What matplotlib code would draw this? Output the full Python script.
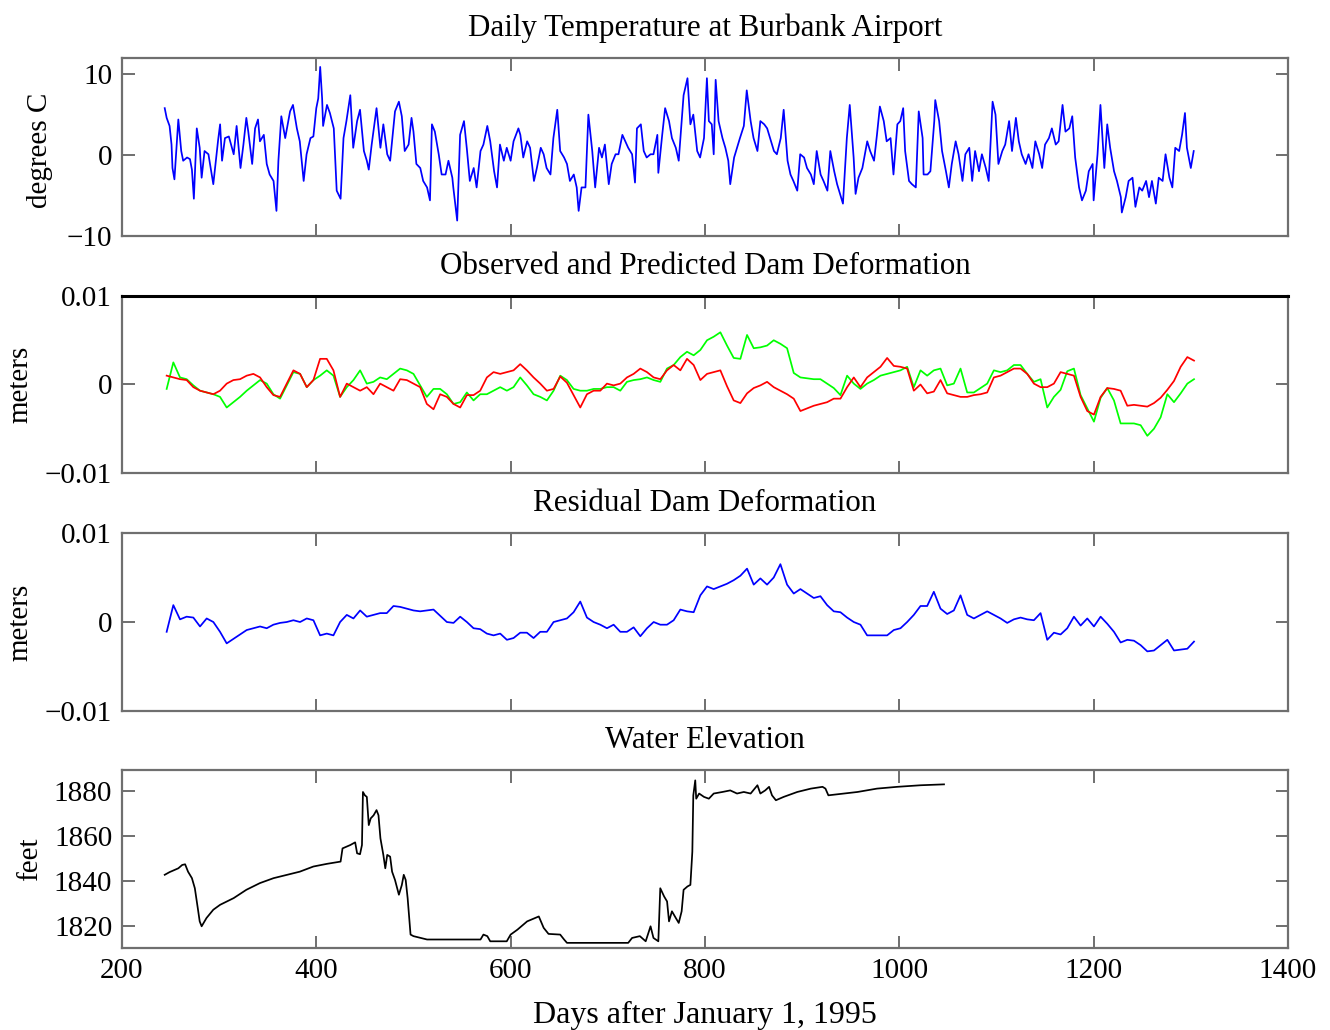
import numpy as np
import matplotlib
matplotlib.use("Agg")
import matplotlib.pyplot as plt

plt.rcParams["font.family"] = ["Liberation Serif", "DejaVu Serif"]

# ---------------- daily temperature (degrees C) ----------------
temp_days = [
    244, 246, 249, 251, 252, 254, 258, 261, 263, 267,
    270, 272, 274, 277, 280, 282, 285, 289, 294, 299,
    301, 303, 306, 310, 315, 318, 322, 325, 328, 330,
    334, 337, 340, 342, 346, 349, 352, 356, 359, 361,
    364, 368, 373, 376, 380, 383, 387, 390, 394, 397,
    400, 402, 404, 406, 407, 411, 414, 418, 421, 425,
    428, 431, 435, 438, 442, 445, 449, 452, 454, 457,
    462, 466, 469, 473, 476, 481, 485, 488, 491, 495,
    498, 500, 503, 507, 510, 514, 517, 519, 522, 526,
    529, 533, 536, 540, 541, 545, 548, 552, 555, 558,
    562, 565, 569, 572, 576, 579, 583, 586, 589, 593,
    596, 600, 603, 608,
    610, 613, 617, 620, 624, 627, 631, 634, 637, 641,
    644, 648, 651, 655, 658, 661, 665, 668, 670, 673,
    677, 680, 684, 687, 691, 694, 697, 701, 704, 708,
    711, 715, 718, 721, 725, 728, 730, 734, 737, 740,
    744, 747, 751, 752, 756, 759, 763, 766, 770, 773,
    776, 778, 782, 785, 788, 792, 795, 799, 802, 804,
    807, 809, 811, 814, 818, 821, 824, 826, 830, 833,
    836, 840, 843, 847, 850, 854, 857, 861, 864, 867,
    871, 874, 878, 881, 885, 888, 891, 895, 898, 902,
    905, 909, 912, 915, 919, 922, 926, 929, 933, 936,
    939, 942, 946, 949, 953, 955, 958, 962, 967, 970,
    974, 977, 980,
    984, 987, 991, 994, 998, 1001, 1004, 1006, 1010, 1013,
    1017, 1020, 1024, 1025, 1029, 1032, 1036, 1037, 1041, 1044,
    1048, 1051, 1054, 1058, 1061, 1065, 1068, 1072, 1075, 1078,
    1082, 1085, 1089, 1092, 1096, 1099, 1102, 1106, 1109, 1113,
    1116, 1120, 1123, 1126, 1130, 1133, 1137, 1140, 1144, 1147,
    1150, 1154, 1157, 1161, 1164, 1168, 1171, 1175, 1178, 1181,
    1185, 1188, 1192, 1195, 1199, 1200, 1204, 1207, 1211, 1214,
    1217, 1221, 1224, 1228, 1229, 1233, 1236, 1240, 1243, 1247,
    1250, 1254, 1257, 1260, 1264, 1267, 1271, 1274, 1278, 1281,
    1284, 1288, 1291, 1294, 1296, 1300, 1303,
]
temp_values = [
    5.8, 4.6, 3.6, 1.3, -1.6, -3.0, 4.4, 0.5, -0.7, -0.3,
    -0.5, -1.8, -5.4, 3.3, 0.9, -2.8, 0.5, 0.1, -3.6, 1.9,
    3.8, -0.7, 2.1, 2.3, 0.1, 3.6, -1.6, 1.3, 4.6, 2.9,
    -1.1, 3.3, 4.4, 1.7, 2.5, -1.1, -2.4, -3.2, -6.9, -0.7,
    4.8, 2.1, 5.4, 6.2, 3.3, 1.7, -3.2, 0.1, 2.1, 2.3,
    5.8, 7.0, 10.9, 7.0, 3.6, 6.2, 5.2, 3.3, -4.4, -5.4,
    2.1, 4.2, 7.4, 0.9, 4.2, 5.6, 0.5, -0.7, -1.8, 1.3,
    5.8, 0.9, 3.8, 0.1, -0.7, 5.4, 6.6, 4.8, 0.5, 1.3,
    4.6, 2.9, -1.1, -1.6, -3.2, -4.0, -5.6, 3.8, 2.9, 0.1,
    -2.4, -2.4, -0.7, -2.8, -4.0, -8.1, 2.5, 4.2, 0.7, -3.2,
    -1.6, -4.0, 0.5, 1.3, 3.6, 1.7, -2.0, -4.0, 1.3, -0.7,
    0.9, -0.7, 1.7, 3.3,
    2.5, -0.3, 1.7, 0.9, -3.2, -1.6, 0.9, 0.1, -1.6, -2.4,
    2.1, 5.6, 0.5, -0.3, -1.1, -3.2, -2.4, -4.0, -6.9, -4.0,
    -4.0, 5.0, 0.5, -4.0, 0.9, -0.3, 1.3, -3.6, -1.1, 0.1,
    0.1, 2.5, 1.7, 0.9, 0.1, -3.4, 3.3, 3.8, 0.5, -0.3,
    0.1, 0.1, 2.5, -2.2, 2.5, 5.8, 4.2, 2.1, 0.9, -0.7,
    4.2, 7.4, 9.5, 3.8, 5.0, 0.5, -0.3, 2.1, 9.5, 4.2,
    3.8, 0.1, 9.3, 4.2, 2.1, 0.9, -0.7, -3.6, -0.3, 0.9,
    2.1, 3.6, 8.0, 4.2, 2.1, 0.5, 4.2, 3.8, 3.3, 2.1,
    0.5, 0.1, 2.1, 5.6, -0.7, -2.4, -3.2, -4.4, 0.1, -0.3,
    -1.6, -2.4, -3.6, 0.5, -2.4, -3.2, -4.4, 0.5, -2.0, -3.6,
    -4.8, -6.0, 2.1, 6.2, -0.3, -4.8, -2.8, -1.6, 1.7, 0.5,
    -0.7, 2.5, 6.0,
    4.2, 1.7, 2.1, -2.4, 3.8, 4.2, 5.8, 0.5, -3.2, -3.6,
    -4.0, 5.4, 2.1, -2.4, -2.4, -2.0, 4.2, 6.8, 4.2, 0.5,
    -2.0, -4.0, -1.1, 1.7, 0.1, -3.2, 0.1, 0.9, -3.2, 0.5,
    -2.0, 0.1, -1.6, -3.2, 6.6, 5.0, -1.1, 0.5, 1.3, 4.2,
    0.5, 4.6, 1.7, 0.1, -1.1, 0.1, -1.6, 1.7, 0.1, -1.6,
    1.3, 2.1, 3.3, 1.3, 1.7, 6.2, 2.9, 3.3, 4.8, -0.3,
    -4.0, -5.6, -4.4, -2.0, -1.1, -5.6, 0.1, 6.2, -1.6, 3.8,
    0.9, -2.0, -3.2, -5.2, -7.1, -5.2, -3.2, -2.8, -6.4, -4.0,
    -4.4, -3.2, -5.2, -3.2, -6.0, -2.8, -3.2, 0.1, -2.8, -4.0,
    0.9, 0.5, 2.5, 5.2, 0.9, -1.6, 0.5,
]

# ---------------- dam deformation (millimetres), weekly-ish grid ----------------
deform_first_day = 246.0
deform_last_day = 1303.3

observed_mm = [
    -0.5, 2.5, 0.8, 0.6, -0.1, -0.7, -0.9, -1.1, -1.4, -2.6,
    -2.0, -1.4, -0.7, -0.1, 0.5, 0.1, -1.1, -1.6, -0.1, 1.4,
    1.2, -0.3, 0.5, 1.0, 1.6, 1.0, -1.4, -0.3, 0.5, 1.6,
    0.1, 0.3, 0.8, 0.6, 1.2, 1.8, 1.6, 1.2, -0.1, -1.4,
    -0.5, -0.5, -1.1, -2.2, -2.0, -0.9, -1.8, -1.1, -1.1, -0.7,
    -0.3, -0.7, -0.3, 0.8,
    -0.1, -1.1, -1.4, -1.8, -0.7, 1.0, 0.5, -0.5, -0.7, -0.7,
    -0.5, -0.5, -0.3, -0.3, -0.7, 0.3, 0.5, 0.6, 0.8, 0.5,
    0.3, 1.8, 2.2, 3.1, 3.7, 3.3, 3.9, 5.0, 5.4, 5.9,
    4.4, 3.0, 2.9, 5.6, 4.1, 4.2, 4.4, 5.0, 4.6, 4.1,
    1.3, 0.8, 0.7, 0.6, 0.6, 0.1, -0.4, -1.2, 1.0, 0.1,
    -0.5, 0.1, 0.5, 1.0,
    1.2, 1.4, 1.6, 2.0, -0.3, 1.6, 1.0, 1.6, 1.8, -0.1,
    0.1, 1.8, -0.9, -0.9, -0.4, 0.1, 1.6, 1.4, 1.6, 2.2,
    2.2, 1.2, 0.3, 0.6, -2.6, -1.4, -0.6, 1.5, 1.8, -1.2,
    -2.7, -4.2, -1.5, -0.4, -1.8, -4.4, -4.4, -4.4, -4.6, -5.8,
    -5.0, -3.7, -1.1, -2.0, -1.0, 0.1, 0.6,
]
predicted_mm = [
    1.0, 0.8, 0.6, 0.5, -0.3, -0.7, -0.9, -1.1, -0.7, 0.1,
    0.5, 0.6, 1.0, 1.2, 0.8, -0.3, -1.2, -1.4, 0.1, 1.6,
    1.2, -0.3, 0.5, 2.9, 2.9, 1.6, -1.4, 0.1, -0.3, -0.7,
    -0.3, -1.1, 0.1, -0.3, -0.7, 0.6, 0.5, 0.1, -0.3, -2.2,
    -2.8, -1.1, -1.4, -2.2, -2.6, -1.2, -1.2, -0.7, 0.8, 1.4,
    1.2, 1.4, 1.6, 2.3,
    1.6, 0.8, 0.1, -0.7, -0.5, 0.9, 0.2, -1.2, -2.6, -1.1,
    -0.7, -0.7, 0.1, -0.1, 0.1, 0.8, 1.2, 1.8, 1.4, 0.8,
    0.6, 1.6, 2.2, 1.6, 2.9, 2.2, 0.5, 1.2, 1.4, 1.6,
    -0.2, -1.8, -2.1, -1.0, -0.4, -0.1, 0.3, -0.3, -0.7, -1.1,
    -1.6, -3.0, -2.7, -2.4, -2.2, -2.0, -1.6, -1.6, -0.3, 0.8,
    -0.3, 0.8, 1.4, 2.0,
    3.0, 2.1, 2.0, 1.8, -0.7, 0.0, -1.0, -0.8, 0.5, -1.0,
    -1.2, -1.4, -1.4, -1.2, -1.1, -0.9, 0.8, 1.0, 1.4, 1.8,
    1.8, 1.2, 0.1, -0.3, -0.3, 0.1, 1.4, 1.2, 1.0, -1.4,
    -3.0, -3.4, -1.4, -0.4, -0.5, -0.7, -2.4, -2.3, -2.4, -2.5,
    -2.1, -1.5, -0.6, 0.4, 2.0, 3.1, 2.7,
]
residual_mm = [
    -1.1, 1.9, 0.3, 0.6, 0.5, -0.5, 0.4, 0.0, -1.1, -2.4,
    -1.9, -1.4, -0.9, -0.7, -0.5, -0.7, -0.3, -0.1, 0.0, 0.2,
    0.0, 0.4, 0.2, -1.5, -1.3, -1.5, 0.0, 0.8, 0.4, 1.3,
    0.6, 0.8, 1.0, 1.0, 1.8, 1.7, 1.5, 1.3, 1.2, 1.3,
    1.4, 0.7, 0.0, -0.1, 0.6, 0.0, -0.7, -0.8, -1.3, -1.5,
    -1.3, -2.0, -1.8, -1.2,
    -1.2, -1.8, -1.1, -1.1, 0.0, 0.2, 0.4, 1.1, 2.3, 0.5,
    0.0, -0.3, -0.7, -0.3, -1.1, -1.1, -0.6, -1.6, -0.7, 0.0,
    -0.3, -0.3, 0.2, 1.4, 1.2, 1.1, 3.0, 4.0, 3.7, 4.0,
    4.3, 4.7, 5.2, 6.0, 4.2, 4.9, 4.2, 5.0, 6.5, 4.2,
    3.2, 3.7, 3.2, 2.7, 2.9, 1.9, 1.2, 1.1, 0.5, 0.0,
    -0.3, -1.5, -1.5, -1.5,
    -1.5, -0.9, -0.7, 0.0, 0.8, 1.8, 1.8, 3.4, 1.5, 0.9,
    1.3, 3.0, 0.8, 0.4, 0.8, 1.2, 0.8, 0.4, -0.1, 0.3,
    0.5, 0.3, 0.2, 1.0, -2.0, -1.2, -1.4, -0.7, 0.6, -0.4,
    0.4, -0.5, 0.6, -0.2, -1.1, -2.3, -2.0, -2.1, -2.6, -3.3,
    -3.2, -2.6, -2.0, -3.2, -3.1, -3.0, -2.2,
]

# ---------------- reservoir water elevation (feet) ----------------
water_days = [
    244, 249, 258, 262, 265, 268, 272, 275, 278, 280,
    282, 287, 294, 301, 315, 328, 342, 356, 370, 383,
    397, 411, 425, 427, 435, 440, 442, 445, 447, 448,
    450, 452, 454, 456, 459, 462, 464, 466, 469, 471,
    473, 476, 478, 481, 485, 488, 490, 492, 494, 497,
    500, 514, 541, 569, 572, 576, 579, 596, 600, 607,
    617, 629, 634, 639, 651, 655, 658, 689, 721, 725,
    733, 739, 744, 747, 752, 754, 758, 761, 763, 766,
    770, 773, 776, 778, 782, 785, 787, 788, 790, 791,
    794, 799, 804, 809, 818, 826, 833, 840, 847, 854,
    857, 862, 866, 869, 873, 881, 895, 909, 921, 924,
    927, 943, 957, 977, 998, 1022, 1046,
]
water_feet = [
    1842.7, 1843.9, 1845.6, 1847.1, 1847.4, 1844.1, 1841.2, 1836.7, 1827.9, 1821.9,
    1819.7, 1823.4, 1827.1, 1829.3, 1832.3, 1836.0, 1839.0, 1841.2, 1842.7, 1844.1,
    1846.4, 1847.6, 1848.6, 1854.5, 1856.0, 1857.2, 1852.3, 1851.9, 1856.0, 1879.7,
    1878.2, 1877.5, 1864.9, 1867.9, 1869.3, 1871.6, 1869.3, 1859.0, 1851.6, 1845.6,
    1851.6, 1850.8, 1844.1, 1840.4, 1833.8, 1838.1, 1842.7, 1840.4, 1832.3, 1816.0,
    1815.3, 1813.8, 1813.8, 1813.8, 1816.0, 1815.3, 1813.0, 1813.0, 1816.0, 1818.2,
    1821.9, 1824.1, 1819.0, 1816.3, 1816.0, 1813.8, 1812.3, 1812.3, 1812.3, 1814.5,
    1815.3, 1813.0, 1819.7, 1814.5, 1813.0, 1836.7, 1833.0, 1830.8, 1821.9, 1826.4,
    1823.4, 1821.2, 1826.4, 1836.0, 1837.5, 1838.2, 1853.0, 1878.2, 1884.9, 1876.7,
    1879.0, 1877.5, 1876.7, 1879.0, 1879.7, 1880.4, 1879.0, 1879.7, 1879.0, 1882.7,
    1879.0, 1880.4, 1882.0, 1878.2, 1876.0, 1877.5, 1879.7, 1881.2, 1882.0, 1881.2,
    1878.2, 1879.0, 1879.7, 1881.2, 1882.0, 1882.7, 1883.1,
]

panel_titles = [
    "Daily Temperature at Burbank Airport",
    "Observed and Predicted Dam Deformation",
    "Residual Dam Deformation",
    "Water Elevation",
]
day_ticks = [200, 400, 600, 800, 1000, 1200, 1400]

deform_days = np.linspace(deform_first_day, deform_last_day, len(observed_mm))
observed_m = np.array(observed_mm) / 1000.0
predicted_m = np.array(predicted_mm) / 1000.0
residual_m = np.array(residual_mm) / 1000.0

FS = 21
TITLE_FS = 22.3
FRAME = "#6f6f6f"
LW = 1.25

fig = plt.figure(figsize=(13.3, 10.3), dpi=100)
left, width = 0.0917, 0.8767
ax1 = fig.add_axes([left, 0.7709, width, 0.1728])
ax2 = fig.add_axes([left, 0.5408, width, 0.1718])
ax3 = fig.add_axes([left, 0.3097, width, 0.1728])
ax4 = fig.add_axes([left, 0.0796, width, 0.1728])
axes = [ax1, ax2, ax3, ax4]

for ax, title in zip(axes, panel_titles):
    for sp in ax.spines.values():
        sp.set_color(FRAME)
        sp.set_linewidth(1.6)
    ax.set_xlim(200, 1400)
    ax.set_xticks(day_ticks)
    ax.tick_params(direction="in", length=9, width=1.4, color=FRAME,
                   top=True, right=True, labelsize=FS, pad=7,
                   labelcolor="black")
    ax.set_title(title, fontsize=TITLE_FS, pad=16)

for ax in axes[:3]:
    ax.tick_params(labelbottom=False)

# temperature
ax1.plot(temp_days, temp_values, color="#0000ff", lw=LW)
ax1.set_ylim(-10, 12)
ax1.set_yticks([-10, 0, 10])
ax1.set_yticklabels(["\u221210", "0", "10"])
ax1.set_ylabel("degrees C", fontsize=FS, va="center")
ax1.yaxis.set_label_coords(-0.070, 0.48)

# observed (green) and predicted (red) deformation
ax2.plot(deform_days, observed_m, color="#00ff00", lw=LW)
ax2.plot(deform_days, predicted_m, color="#ff0000", lw=LW)
ax2.set_ylim(-0.01, 0.01)
ax2.set_yticks([-0.01, 0, 0.01])
ax2.set_yticklabels(["\u22120.01", "0", "0.01"])
ax2.set_ylabel("meters", fontsize=FS, va="center")
ax2.yaxis.set_label_coords(-0.087, 0.5)
ax2.spines["top"].set_color("black")
ax2.spines["top"].set_linewidth(2.2)

# residual deformation
ax3.plot(deform_days, residual_m, color="#0000ff", lw=LW)
ax3.set_ylim(-0.01, 0.01)
ax3.set_yticks([-0.01, 0, 0.01])
ax3.set_yticklabels(["\u22120.01", "0", "0.01"])
ax3.set_ylabel("meters", fontsize=FS, va="center")
ax3.yaxis.set_label_coords(-0.087, 0.5)

# water elevation
ax4.plot(water_days, water_feet, color="black", lw=LW)
ax4.set_ylim(1810, 1889.5)
ax4.set_yticks([1820, 1840, 1860, 1880])
ax4.set_ylabel("feet", fontsize=FS, va="center")
ax4.yaxis.set_label_coords(-0.079, 0.5)
ax4.set_xlabel("Days after January 1, 1995", fontsize=23, va="center")
ax4.xaxis.set_label_coords(0.5, -0.38)

fig.savefig("out.png", dpi=100)
